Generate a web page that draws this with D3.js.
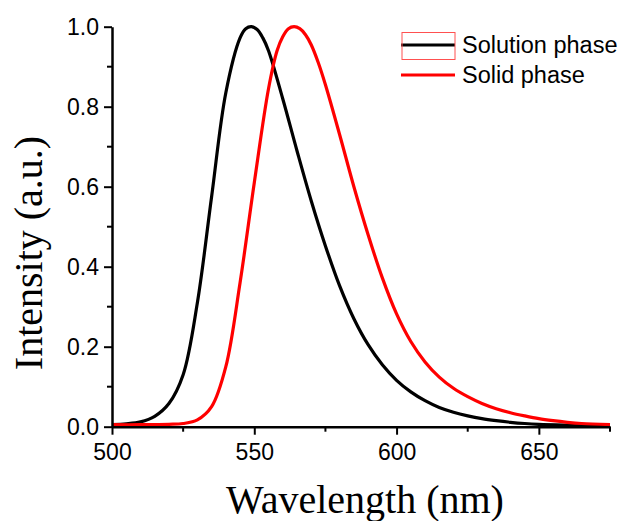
<!DOCTYPE html>
<html>
<head>
<meta charset="utf-8">
<script src="https://cdn.jsdelivr.net/npm/d3@7"></script>
<style>
  html, body { margin: 0; padding: 0; background: #fff; }
  svg { display: block; }
</style>
</head>
<body>
<div id="chart"></div>
<script>
// wavelength (nm) and normalised intensity
const solutionWl = [500, 505, 510, 515, 520, 525, 530, 535, 540, 545, 547, 549, 551, 553, 555, 560, 565, 570, 575, 580, 585, 590, 595, 600, 605, 610, 615, 620, 625, 630, 635, 640, 645, 650, 660, 675]
const solutionI = [0.005, 0.007, 0.012, 0.026, 0.058, 0.13, 0.31, 0.575, 0.835, 0.972, 0.995, 1.0, 0.993, 0.972, 0.94, 0.82, 0.69, 0.565, 0.452, 0.352, 0.27, 0.205, 0.155, 0.116, 0.087, 0.065, 0.048, 0.036, 0.027, 0.02, 0.015, 0.011, 0.008, 0.006, 0.004, 0.002]

const solidWl = [500, 510, 520, 525, 530, 535, 540, 545, 550, 555, 558, 560, 562, 564, 566, 568, 570, 572.5, 575, 580, 585, 590, 595, 600, 605, 610, 615, 620, 625, 630, 635, 640, 645, 650, 655, 660, 665, 675]
const solidI = [0.005, 0.005, 0.006, 0.008, 0.017, 0.05, 0.15, 0.36, 0.61, 0.845, 0.94, 0.975, 0.995, 1.0, 0.995, 0.98, 0.955, 0.91, 0.855, 0.73, 0.6, 0.48, 0.372, 0.282, 0.213, 0.162, 0.124, 0.096, 0.075, 0.058, 0.045, 0.035, 0.027, 0.02, 0.015, 0.011, 0.008, 0.005]

const seriesNames = ['Solution phase', 'Solid phase']
const seriesColors = ['#000000', '#ff0000']
const xTicks = [500, 550, 600, 650]
const xMinor = [525, 575, 625, 675]
const yTicks = [0, 0.2, 0.4, 0.6, 0.8, 1.0]
const yMinor = [0.1, 0.3, 0.5, 0.7, 0.9]

const width = 620
const height = 521
const plotLeft = 112
const plotRight = 610
const plotTop = 26.7
const plotBottom = 426.7

const svg = d3.select('#chart')
  .append('svg')
  .attr('width', width)
  .attr('height', height)

const xScale = d3.scaleLinear().domain([500, 675]).range([plotLeft, plotRight])
const yScale = d3.scaleLinear().domain([0, 1]).range([plotBottom, plotTop])

const series = [
  solutionWl.map((w, i) => ({ x: w, y: solutionI[i] })),
  solidWl.map((w, i) => ({ x: w, y: solidI[i] }))
]

const line = d3.line()
  .x(d => xScale(d.x))
  .y(d => yScale(d.y))
  .curve(d3.curveCatmullRom.alpha(0.5))

svg.append('g').selectAll('path')
  .data(series)
  .enter()
  .append('path')
  .attr('d', d => line(d))
  .attr('fill', 'none')
  .attr('stroke', (d, i) => seriesColors[i])
  .attr('stroke-width', 3.2)
  .attr('stroke-linejoin', 'round')

// 坐标轴
const tickFont = '"Liberation Sans", Arial, sans-serif'

const xAxis = d3.axisBottom(xScale).tickValues(xTicks).tickSize(8).tickPadding(9).tickSizeOuter(0)
const xAxisg = svg.append('g')
  .attr('transform', `translate(0, ${plotBottom})`)
  .call(xAxis)
xAxisg.append('g').selectAll('line')
  .data(xMinor)
  .enter()
  .append('line')
  .attr('x1', d => xScale(d))
  .attr('x2', d => xScale(d))
  .attr('y1', 0)
  .attr('y2', 5)

const yAxis = d3.axisLeft(yScale).tickValues(yTicks).tickSize(8).tickPadding(5).tickSizeOuter(0)
  .tickFormat(d3.format('.1f'))
const yAxisg = svg.append('g')
  .attr('transform', `translate(${plotLeft}, 0)`)
  .call(yAxis)
yAxisg.append('g').selectAll('line')
  .data(yMinor)
  .enter()
  .append('line')
  .attr('x1', 0)
  .attr('x2', -5)
  .attr('y1', d => yScale(d))
  .attr('y2', d => yScale(d))

;[xAxisg, yAxisg].forEach(g => {
  g.select('.domain').attr('stroke', '#000').attr('stroke-width', 2.5)
  g.selectAll('line').attr('stroke', '#000').attr('stroke-width', 2)
  g.selectAll('text')
    .style('font-family', tickFont)
    .style('font-size', '23px')
    .attr('fill', '#000')
})

// 轴标题
const titleFont = '"Liberation Serif", "Times New Roman", serif'
svg.append('text')
  .text('Wavelength (nm)')
  .attr('x', (plotLeft + plotRight) / 2 + 4)
  .attr('y', 513)
  .attr('text-anchor', 'middle')
  .style('font-family', titleFont)
  .style('font-size', '40px')

svg.append('text')
  .text('Intensity (a.u.)')
  .attr('transform', `translate(42, 253) rotate(-90)`)
  .attr('text-anchor', 'middle')
  .style('font-family', titleFont)
  .style('font-size', '40px')

// 图例
const legend = svg.append('g')
const legendY = [45, 75]
legend.selectAll('line')
  .data(seriesNames)
  .enter()
  .append('line')
  .attr('x1', 401)
  .attr('x2', 455)
  .attr('y1', (d, i) => legendY[i])
  .attr('y2', (d, i) => legendY[i])
  .attr('stroke', (d, i) => seriesColors[i])
  .attr('stroke-width', 3)

legend.append('rect')
  .attr('x', 402)
  .attr('y', 32.5)
  .attr('width', 53)
  .attr('height', 27)
  .attr('fill', 'none')
  .attr('stroke', '#ff5050')
  .attr('stroke-width', 1)

legend.selectAll('text')
  .data(seriesNames)
  .enter()
  .append('text')
  .text(d => d)
  .attr('x', 462)
  .attr('y', (d, i) => legendY[i])
  .attr('dy', '0.35em')
  .style('font-family', tickFont)
  .style('font-size', '23.5px')
</script>
</body>
</html>
